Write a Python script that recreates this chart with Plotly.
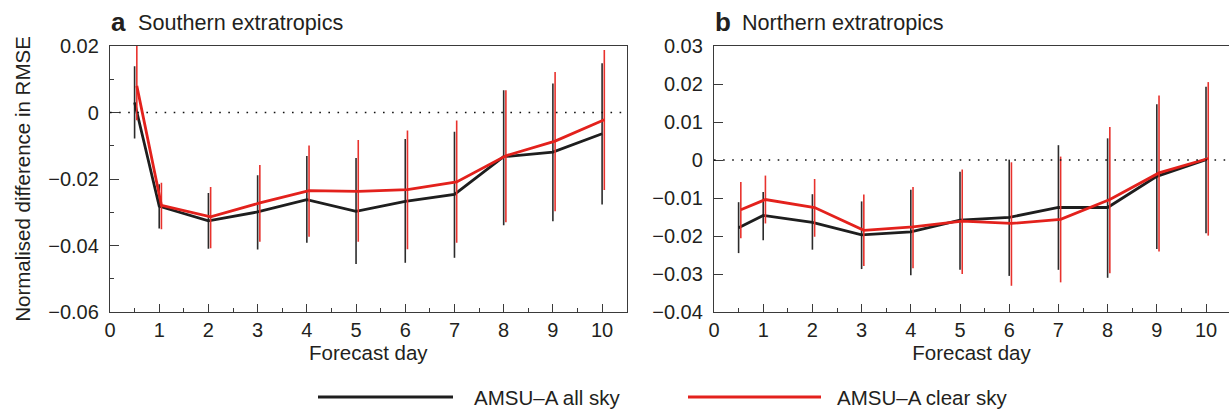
import plotly.graph_objects as go

# ---------------- data ----------------
days = [0.5, 1, 2, 3, 4, 5, 6, 7, 8, 9, 10]
series_names = ["AMSU\u2013A all sky", "AMSU\u2013A clear sky"]
panel_titles = ["Southern extratropics", "Northern extratropics"]
panel_letters = ["a", "b"]

# Panel a (Southern extratropics)
sh_all_mean = [0.0030, -0.0282, -0.0326, -0.0299, -0.0262, -0.0297, -0.0267, -0.0246, -0.0133, -0.0119, -0.0064]
sh_all_upper = [0.0139, -0.0216, -0.0242, -0.0189, -0.0131, -0.0137, -0.0080, -0.0058, 0.0067, 0.0087, 0.0148]
sh_all_lower = [-0.0078, -0.0349, -0.0410, -0.0412, -0.0392, -0.0456, -0.0452, -0.0437, -0.0339, -0.0327, -0.0277]

sh_clr_mean = [0.0080, -0.0279, -0.0314, -0.0272, -0.0235, -0.0237, -0.0232, -0.0209, -0.0130, -0.0086, -0.0022]
sh_clr_upper = [0.0240, -0.0211, -0.0224, -0.0158, -0.0099, -0.0083, -0.0054, -0.0024, 0.0067, 0.0122, 0.0188]
sh_clr_lower = [-0.0023, -0.0351, -0.0408, -0.0389, -0.0374, -0.0389, -0.0411, -0.0392, -0.0330, -0.0297, -0.0233]

# Panel b (Northern extratropics)
nh_all_mean = [-0.0178, -0.0146, -0.0164, -0.0197, -0.0189, -0.0158, -0.0151, -0.0125, -0.0125, -0.0043, 0.0001]
nh_all_upper = [-0.0111, -0.0084, -0.0090, -0.0109, -0.0078, -0.0031, 0.0001, 0.0039, 0.0057, 0.0147, 0.0193]
nh_all_lower = [-0.0245, -0.0211, -0.0236, -0.0287, -0.0303, -0.0289, -0.0305, -0.0289, -0.0310, -0.0234, -0.0193]

nh_clr_mean = [-0.0131, -0.0104, -0.0125, -0.0185, -0.0176, -0.0161, -0.0167, -0.0156, -0.0104, -0.0034, 0.0004]
nh_clr_upper = [-0.0058, -0.0041, -0.0050, -0.0091, -0.0071, -0.0025, -0.0006, 0.0009, 0.0087, 0.0170, 0.0205]
nh_clr_lower = [-0.0206, -0.0167, -0.0202, -0.0279, -0.0285, -0.0300, -0.0331, -0.0322, -0.0298, -0.0241, -0.0199]

xtick_vals = [0, 1, 2, 3, 4, 5, 6, 7, 8, 9, 10]

# ---------------- style ----------------
W, H = 1229, 410
BLACK = "#1e1e1e"
BLACK_BAR = "#2b2b2b"
RED = "#e3211c"
RED_BAR = "#e8322d"
AXIS = "#3a3a3a"
TXT = "#231f20"
FONT = "Liberation Sans, Arial, Helvetica, sans-serif"
RED_OFFSET = 0.045  # small horizontal offset of red series, in days

def px_x(p):
    return p / W

def px_y(p):
    return 1 - p / H

fig = go.Figure()

def add_series(mean, upper, lower, color, barcolor, name, xa, ya, offset):
    xs = [d + offset for d in days]
    fig.add_trace(go.Scatter(
        x=xs, y=mean, mode="lines", name=name,
        line=dict(color=color, width=2.8),
        error_y=dict(type="data", symmetric=False,
                     array=[u - m for u, m in zip(upper, mean)],
                     arrayminus=[m - l for m, l in zip(mean, lower)],
                     color=barcolor, thickness=1.6, width=0),
        xaxis=xa, yaxis=ya, showlegend=False, hoverinfo="skip"))

add_series(sh_all_mean, sh_all_upper, sh_all_lower, BLACK, BLACK_BAR, series_names[0], "x", "y", 0.0)
add_series(sh_clr_mean, sh_clr_upper, sh_clr_lower, RED, RED_BAR, series_names[1], "x", "y", RED_OFFSET)
add_series(nh_all_mean, nh_all_upper, nh_all_lower, BLACK, BLACK_BAR, series_names[0], "x2", "y2", 0.0)
add_series(nh_clr_mean, nh_clr_upper, nh_clr_lower, RED, RED_BAR, series_names[1], "x2", "y2", RED_OFFSET)

ydom = [px_y(312), px_y(46)]
common_x = dict(
    range=[0, 10.5], tickvals=xtick_vals, ticks="inside", ticklen=8, tickwidth=1.2,
    tickcolor=AXIS, showline=True, linecolor=AXIS, linewidth=1.3, mirror=True,
    showgrid=False, zeroline=False, automargin=False,
    minor=dict(dtick=0.5, ticks="inside", ticklen=4, tickwidth=1.1, tickcolor=AXIS, showgrid=False),
    tickfont=dict(size=20, color=TXT, family=FONT),
    title=dict(text="Forecast day", font=dict(size=20.5, color=TXT, family=FONT), standoff=3),
)
common_y = dict(
    ticks="inside", ticklen=9, tickwidth=1.2, tickcolor=AXIS, showline=True,
    linecolor=AXIS, linewidth=1.3, mirror=True, showgrid=False, zeroline=False,
    automargin=False, ticklabelstandoff=6,
    tickfont=dict(size=20, color=TXT, family=FONT), domain=ydom,
)

fig.update_layout(
    width=W, height=H, margin=dict(l=0, r=0, t=0, b=0),
    paper_bgcolor="white", plot_bgcolor="white",
    font=dict(family=FONT, color=TXT),
    xaxis=dict(domain=[px_x(110), px_x(626.7)], anchor="y", **common_x),
    yaxis=dict(range=[-0.06, 0.02], dtick=0.02, anchor="x",
               minor=dict(dtick=0.01, ticks="inside", ticklen=4, tickwidth=1.1, tickcolor=AXIS, showgrid=False),
               title=dict(text="Normalised difference in RMSE", font=dict(size=20.5, color=TXT, family=FONT), standoff=12),
               **common_y),
    xaxis2=dict(domain=[px_x(714), 1.0], anchor="y2", **{**common_x, "range": [0, 10.467]}),
    yaxis2=dict(range=[-0.04, 0.03], dtick=0.01, anchor="x2", **common_y),
    showlegend=False,
)

# dotted zero lines
for xr, yr in [("x domain", "y"), ("x2 domain", "y2")]:
    fig.add_shape(type="line", xref=xr, yref=yr, x0=0, x1=1, y0=0, y1=0,
                  line=dict(color="#111", width=1.6, dash="1.6px,7.5px"), layer="above")

# panel titles
for letter, title, x0 in [(panel_letters[0], panel_titles[0], 110), (panel_letters[1], panel_titles[1], 714)]:
    fig.add_annotation(xref="paper", yref="paper", x=px_x(x0 - 1), y=px_y(22), xanchor="left", yanchor="middle",
                       text="<b>%s</b>" % letter, showarrow=False,
                       font=dict(size=26, color=TXT, family=FONT))
    fig.add_annotation(xref="paper", yref="paper", x=px_x(x0 + 26), y=px_y(22), xanchor="left", yanchor="middle",
                       text=title, showarrow=False,
                       font=dict(size=21.6, color=TXT, family=FONT))

# legend (drawn manually to match long line samples)
for (x0, x1, tx), color, name in [((318, 453, 472), BLACK, series_names[0]),
                                  ((688, 821, 835), RED, series_names[1])]:
    fig.add_shape(type="line", xref="paper", yref="paper", x0=px_x(x0), x1=px_x(x1),
                  y0=px_y(397), y1=px_y(397), line=dict(color=color, width=2.8))
    fig.add_annotation(xref="paper", yref="paper", x=px_x(tx), y=px_y(397), xanchor="left", yanchor="middle",
                       text=name, showarrow=False, font=dict(size=20.5, color=TXT, family=FONT))

fig.write_html("out.html", config={"displayModeBar": False},
               post_script="document.body.style.margin='0px';")
